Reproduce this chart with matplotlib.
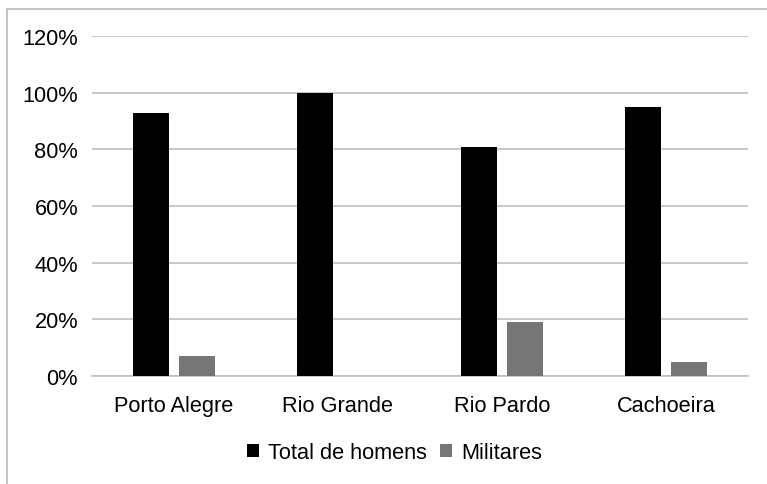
import matplotlib
matplotlib.use("Agg")
import matplotlib.pyplot as plt
import numpy as np
from matplotlib.lines import Line2D
from matplotlib.ticker import FuncFormatter

plt.rcParams['font.family'] = ['Liberation Sans', 'DejaVu Sans']

categories = ["Porto Alegre", "Rio Grande", "Rio Pardo", "Cachoeira"]
total_homens = [0.93, 1.00, 0.81, 0.95]
militares = [0.07, 0.0, 0.19, 0.05]
series_names = ["Total de homens", "Militares"]
yticks = [0, 0.2, 0.4, 0.6, 0.8, 1.0, 1.2]

W, H = 767, 485
fig = plt.figure(figsize=(W / 100, H / 100), dpi=100)
ax = fig.add_axes([92 / W, 1 - 377 / H, (748 - 92) / W, (377 - 37) / H])

x = np.arange(len(categories))
bw = 0.22
off = 0.14
ax.bar(x - off, total_homens, bw, color="#000000", label=series_names[0], zorder=3)
ax.bar(x + off, militares, bw, color="#767676", label=series_names[1], zorder=3)

ax.set_xlim(-0.5, len(categories) - 0.5)
ax.set_ylim(0, 1.2)
ax.set_yticks(yticks)
ax.yaxis.set_major_formatter(FuncFormatter(lambda v, p: f"{v*100:.0f}%"))
ax.set_xticks(x)
ax.set_xticklabels(categories)
ax.tick_params(axis='both', length=0, labelsize=15.7, colors="#000000")
ax.tick_params(axis='y', pad=10)
ax.tick_params(axis='x', pad=14)
ax.grid(axis='y', color="#BFBFBF", linewidth=1.2, zorder=0)
for s in ["top", "right", "left"]:
    ax.spines[s].set_visible(False)
ax.spines["bottom"].set_color("#BFBFBF")
ax.spines["bottom"].set_linewidth(1.2)

leg = fig.legend(loc="center", bbox_to_anchor=(0.5 + 11 / W, 1 - 454 / H), ncol=2,
                 frameon=False, fontsize=15.7, handlelength=0.55, handleheight=0.55,
                 handletextpad=0.4, columnspacing=0.6)

# chart border (top and left visible)
fig.add_artist(Line2D([7 / W, 1.0], [1 - 10 / H, 1 - 10 / H], transform=fig.transFigure,
                      color="#BFBFBF", linewidth=1.3))
fig.add_artist(Line2D([7 / W, 7 / W], [1 - 10 / H, 0.0], transform=fig.transFigure,
                      color="#BFBFBF", linewidth=1.3))

fig.savefig("out.png", dpi=100)
